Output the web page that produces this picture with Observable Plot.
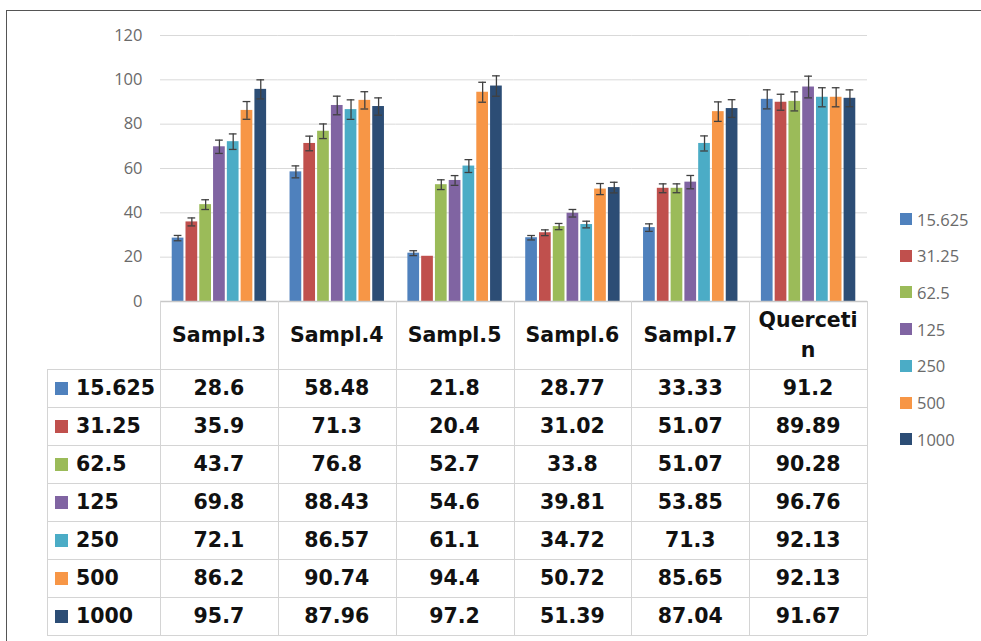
<!DOCTYPE html>
<html><head><meta charset="utf-8">
<script src="https://cdn.jsdelivr.net/npm/d3@7"></script>
<script src="https://cdn.jsdelivr.net/npm/@observablehq/plot@0.6"></script>
<style>
html,body{margin:0;padding:0;background:#fff;}
#wrap{position:relative;width:981px;height:641px;overflow:hidden;background:#fff;}
#frame{position:absolute;left:6px;top:10px;width:1200px;height:1000px;border-top:1.5px solid #555;border-left:1.5px solid #555;}
#chart{position:absolute;left:0;top:0;}
.cell{position:absolute;display:flex;align-items:center;justify-content:center;font-family:"DejaVu Sans";font-weight:bold;font-size:20.5px;color:#111;box-sizing:border-box;text-align:center;}
.hdr{line-height:30px;word-break:break-all;padding:0 6px;}
.lab{justify-content:flex-start;padding-left:8px;}
.hl{position:absolute;height:0;border-top:1.5px solid #d4d4d4;}
.vl{position:absolute;width:0;border-left:1.5px solid #d4d4d4;}
.leg{position:absolute;font-family:"Open Sans";font-size:16.5px;color:#6a6a6a;display:flex;align-items:center;height:20px;}
.sw{display:inline-block;width:12px;height:12px;margin-right:5px;}
.tsw{display:inline-block;width:13px;height:13px;margin-right:8px;}
</style>
</head><body><div id="wrap"><div id="frame"></div><div id="chart"></div><div id="table"></div><div id="legend"></div></div>
<script>
const categories = ["Sampl.3", "Sampl.4", "Sampl.5", "Sampl.6", "Sampl.7", "Quercetin"];
const doses = ["15.625", "31.25", "62.5", "125", "250", "500", "1000"];
const colors = ["#4F81BD", "#C0504D", "#9BBB59", "#8064A2", "#4BACC6", "#F79646", "#2C4D75"];
const yTicks = [0, 20, 40, 60, 80, 100, 120];

// values per dose (one entry per category)
const v15625 = [28.6, 58.48, 21.8, 28.77, 33.33, 91.2];
const v3125  = [35.9, 71.3, 20.4, 31.02, 51.07, 89.89];
const v625   = [43.7, 76.8, 52.7, 33.8, 51.07, 90.28];
const v125   = [69.8, 88.43, 54.6, 39.81, 53.85, 96.76];
const v250   = [72.1, 86.57, 61.1, 34.72, 71.3, 92.13];
const v500   = [86.2, 90.74, 94.4, 50.72, 85.65, 92.13];
const v1000  = [95.7, 87.96, 97.2, 51.39, 87.04, 91.67];

// error bar half-lengths
const e15625 = [1.2, 2.7, 1.1, 1.0, 1.7, 4.3];
const e3125  = [1.8, 3.3, 0, 1.3, 2.0, 3.6];
const e625   = [2.2, 3.3, 2.2, 1.4, 2.0, 4.3];
const e125   = [3.0, 4.2, 2.2, 1.7, 3.0, 4.9];
const e250   = [3.5, 4.4, 2.9, 1.5, 3.4, 4.3];
const e500   = [4.0, 3.9, 4.5, 2.5, 4.4, 4.3];
const e1000  = [4.3, 3.9, 4.6, 2.4, 4.0, 3.8];

const valueSeries = [v15625, v3125, v625, v125, v250, v500, v1000];
const errSeries = [e15625, e3125, e625, e125, e250, e500, e1000];

const data = [];
doses.forEach((d, i) => categories.forEach((c, j) => {
  data.push({dose: d, cat: c, value: valueSeries[i][j], err: errSeries[i][j]});
}));
const errData = data.filter(d => d.err > 0);

const W = 981, H = 322;
const chart = Plot.plot({
  width: W, height: H,
  marginLeft: 160, marginRight: 114, marginTop: 35, marginBottom: 21,
  style: {fontFamily: "Open Sans", fontSize: "16.5px", color: "#6a6a6a", background: "transparent", overflow: "visible"},
  fx: {domain: categories, padding: 0, axis: null, round: false},
  x: {domain: doses, paddingInner: 0.15, paddingOuter: 0.85, axis: null, round: false},
  y: {domain: [0, 120]},
  color: {domain: doses, range: colors},
  marks: [
    Plot.gridY(yTicks, {stroke: "#d9d9d9", strokeOpacity: 1}),
    Plot.axisY(yTicks, {tickSize: 0, tickPadding: 18, label: null, fill: "#6a6a6a", fontSize: 16.5}),
    Plot.barY(data, {fx: "cat", x: "dose", y: "value", fill: "dose"}),
    Plot.ruleY([0], {stroke: "#c8c8c8", strokeWidth: 1.5}),
    Plot.ruleX(errData, {fx: "cat", x: "dose", y1: d => d.value - d.err, y2: d => d.value + d.err, stroke: "#404040", strokeWidth: 1.3}),
    Plot.tickY(errData, {fx: "cat", x: "dose", y: d => d.value + d.err, stroke: "#404040", strokeWidth: 1.3, insetLeft: 2, insetRight: 2}),
    Plot.tickY(errData, {fx: "cat", x: "dose", y: d => d.value - d.err, stroke: "#404040", strokeWidth: 1.3, insetLeft: 2, insetRight: 2})
  ]
});
document.getElementById("chart").appendChild(chart);

// data table aligned with the chart's facet scale
const fx = chart.scale("fx");
const ys = chart.scale("y");
const bw = fx.bandwidth;
const colX = c => fx.apply(c);
const tableTop = ys.apply(0);
const headerH = 68, rowH = 38, labelLeft = 47;
const plotLeft = colX(categories[0]);
const plotRight = colX(categories[categories.length - 1]) + bw;
const tableBottom = tableTop + headerH + rowH * doses.length;
const tbl = document.getElementById("table");
function el(cls, style, html) {
  const e = document.createElement("div");
  e.className = cls;
  Object.assign(e.style, style);
  if (html !== undefined) e.innerHTML = html;
  tbl.appendChild(e);
  return e;
}
// header cells
categories.forEach(c => {
  el("cell hdr", {left: colX(c) + "px", top: tableTop + "px", width: bw + "px", height: headerH + "px"}, c);
});
// rows
doses.forEach((d, i) => {
  const top = tableTop + headerH + i * rowH;
  el("cell lab", {left: labelLeft + "px", top: top + "px", width: (plotLeft - labelLeft) + "px", height: rowH + "px"},
     `<span class="tsw" style="background:${colors[i]}"></span>${d}`);
  categories.forEach((c, j) => {
    el("cell", {left: colX(c) + "px", top: top + "px", width: bw + "px", height: rowH + "px"}, String(valueSeries[i][j]));
  });
});
// grid lines of the table
for (let i = 0; i <= doses.length; i++) {
  const y = tableTop + headerH + i * rowH;
  el("hl", {left: labelLeft + "px", top: y + "px", width: (plotRight - labelLeft) + "px"});
}
el("vl", {left: labelLeft + "px", top: (tableTop + headerH) + "px", height: (tableBottom - tableTop - headerH) + "px"});
categories.forEach(c => el("vl", {left: colX(c) + "px", top: tableTop + "px", height: (tableBottom - tableTop) + "px"}));
el("vl", {left: plotRight + "px", top: tableTop + "px", height: (tableBottom - tableTop) + "px"});

// legend
const leg = document.getElementById("legend");
doses.forEach((d, i) => {
  const e = document.createElement("div");
  e.className = "leg";
  e.style.left = "900px";
  e.style.top = (219 + i * 36.7 - 10) + "px";
  e.innerHTML = `<span class="sw" style="background:${colors[i]}"></span>${d}`;
  leg.appendChild(e);
});
</script>
</body></html>
